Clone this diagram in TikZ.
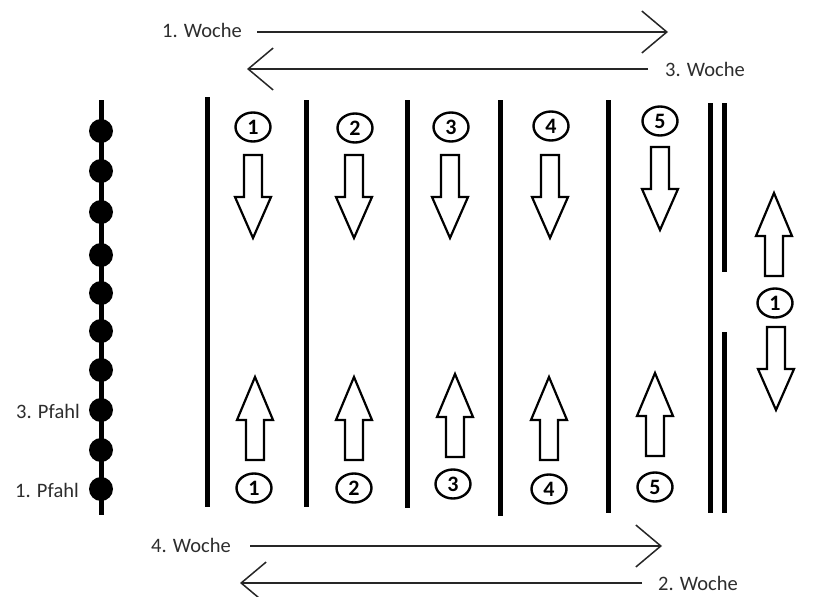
\documentclass[tikz,border=0pt]{standalone}
\usepackage{fontspec}
\setmainfont{Carlito}
\usetikzlibrary{arrows.meta,shapes.geometric}
\definecolor{textgray}{RGB}{45,45,45}
\tikzset{
  lane/.style={line width=5pt, line cap=butt},
  pole/.style={line width=5pt},
  dot/.style={circle, fill=black, minimum size=24pt, inner sep=0pt},
  lbl/.style={text=textgray, font=\fontsize{20.5}{22}\selectfont, inner sep=0pt},
  num/.style={ellipse, draw, line width=2.4pt, minimum width=35pt, minimum height=29pt, inner sep=0pt, font=\fontsize{22}{22}\bfseries\selectfont},
  blockarrow/.style={draw, line width=2.2pt, fill=white, line join=miter},
  week/.style={line width=1.5pt, draw=black!85},
  weektip/.style={-{Straight Barb[length=25pt,width=42pt,line width=1.5pt]}},
  pics/blockdown/.style={code={\draw[blockarrow] (-9,0) -- (9,0) -- (9,42) -- (18,42) -- (0,83) -- (-18,42) -- (-9,42) -- cycle;}},
  pics/blockup/.style={code={\draw[blockarrow] (0,0) -- (18,43) -- (9,43) -- (9,83) -- (-9,83) -- (-9,43) -- (-18,43) -- cycle;}}
}
\begin{document}
\begin{tikzpicture}[x=1pt,y=-1pt]
\useasboundingbox (0,0) rectangle (823,597);
\fill[white] (0,0) rectangle (823,597);
\begin{scope}
\clip (0,0) rectangle (823,597);
% week arrows
\node[lbl, anchor=east] (w1) at (242,30) {1. Woche};
\coordinate (w1s) at (257,32);
\coordinate (w1e) at (668,32);
\draw[week, weektip] (w1s) -- (w1e);
\node[lbl, anchor=west] (w3) at (665,69) {3. Woche};
\coordinate (w3s) at (648,69);
\coordinate (w3e) at (247,69);
\draw[week, weektip] (w3s) -- (w3e);
\node[lbl, anchor=east] (w4) at (231,545) {4. Woche};
\coordinate (w4s) at (250,546);
\coordinate (w4e) at (662,546);
\draw[week, weektip] (w4s) -- (w4e);
\node[lbl, anchor=west] (w2) at (658,583) {2. Woche};
\coordinate (w2s) at (642,583);
\coordinate (w2e) at (240,583);
\draw[week, weektip] (w2s) -- (w2e);
\end{scope}
% pole
\coordinate (ptop) at (101,100);
\coordinate (pbot) at (101,515);
\draw[pole] (ptop) -- (pbot);
\foreach \y [count=\i] in {131,171,212,255,293,331,370,410,450,489}
  \node[dot] (d\i) at (101,\y) {};
\node[lbl, anchor=east] (p3) at (80,411) {3. Pfahl};
\node[lbl, anchor=east] (p1) at (79,490) {1. Pfahl};
% lanes
\draw[lane] (207,97) -- (207,507);
\draw[lane] (306,100) -- (306,507);
\draw[lane] (407,100) -- (407,508);
\draw[lane] (500,100) -- (500,516);
\draw[lane] (608,100) -- (608,513);
\draw[lane] (710,103) -- (710,513);
\draw[lane] (724,103) -- (724,272);
\draw[lane] (724,332) -- (724,513);
% top numbers
\node[num] (t1) at (253,127) {1};
\node[num] (t2) at (355,128) {2};
\node[num] (t3) at (451,127) {3};
\node[num] (t4) at (551,126) {4};
\node[num] (t5) at (660,121) {5};
% bottom numbers
\node[num] (b1) at (254,488) {1};
\node[num] (b2) at (354,488) {2};
\node[num] (b3) at (453,484) {3};
\node[num] (b4) at (549,489) {4};
\node[num] (b5) at (655,487) {5};
\node[num] (r1) at (775,303) {1};
% down arrows
\pic at (253,155) {blockdown};
\pic at (354,155) {blockdown};
\pic at (450,155) {blockdown};
\pic at (550,155) {blockdown};
\pic at (660,147) {blockdown};
% up arrows
\pic at (255,377) {blockup};
\pic at (354,377) {blockup};
\pic at (455,374) {blockup};
\pic at (549,377) {blockup};
\pic at (655,373) {blockup};
% right side
\pic at (774,193) {blockup};
\pic at (776,327) {blockdown};
\end{tikzpicture}
\end{document}
